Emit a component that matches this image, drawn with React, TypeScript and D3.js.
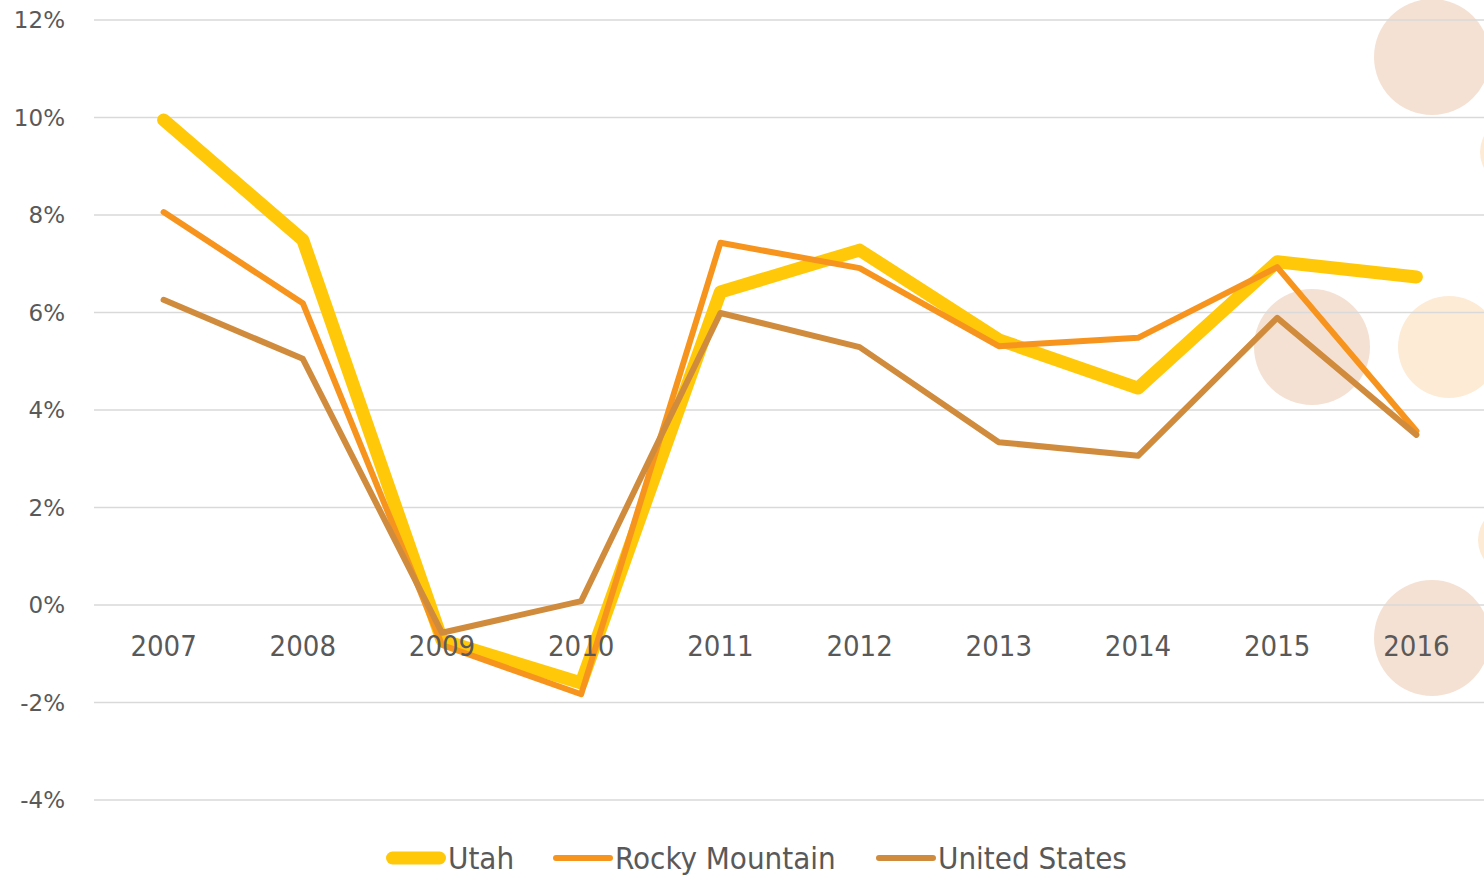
import React from 'react';
import * as d3 from 'd3';

const years = ['2007', '2008', '2009', '2010', '2011', '2012', '2013', '2014', '2015', '2016'];
const utah = [9.95, 7.49, -0.72, -1.6, 6.42, 7.28, 5.44, 4.45, 7.04, 6.73];
const rockyMountain = [8.06, 6.19, -0.82, -1.83, 7.43, 6.91, 5.31, 5.48, 6.93, 3.57];
const unitedStates = [6.26, 5.05, -0.57, 0.08, 5.99, 5.29, 3.34, 3.06, 5.89, 3.49];
const yTicks = [12, 10, 8, 6, 4, 2, 0, -2, -4];

const seriesNames = ['Utah', 'Rocky Mountain', 'United States'];
const seriesColors = ['#FFC90A', '#F7941D', '#D08C3C'];
const seriesWidths = [13, 6, 6];

// decorative bubbles in the background (cx, cy in pixel space, r, fill)
const bubbles = [
  { cx: 1432, cy: 57, r: 58, fill: '#F5E1D3' },
  { cx: 1514, cy: 152, r: 34, fill: '#FDEBD5' },
  { cx: 1312, cy: 347, r: 58, fill: '#F5E1D3' },
  { cx: 1449, cy: 347, r: 51, fill: '#FDEBD5' },
  { cx: 1512, cy: 540, r: 34, fill: '#FDEBD5' },
  { cx: 1432, cy: 638, r: 58, fill: '#F5E1D3' },
];

const W = 1484;
const H = 876;
const margin = { left: 94, right: -2, top: 20, bottom: 76 };

export default function App() {
  const x = d3.scaleBand<string>().domain(years).range([margin.left, W - margin.right]);
  const y = d3.scaleLinear().domain([-4, 12]).range([H - margin.bottom, margin.top]);
  const cx = (d: string) => (x(d) ?? 0) + x.bandwidth() / 2;

  const line = d3
    .line<number>()
    .x((_, i) => cx(years[i]))
    .y((d) => y(d));

  const data = [utah, rockyMountain, unitedStates];
  const legendX = [386, 553, 876];
  const condensed = "'DejaVu Sans Condensed', 'DejaVu Sans', sans-serif";

  return (
    <svg
      width={W}
      height={H}
      style={{ position: 'absolute', left: 0, top: 0, background: '#fff' }}
    >
      {bubbles.map((b, i) => (
        <circle key={i} cx={b.cx} cy={b.cy} r={b.r} fill={b.fill} />
      ))}

      {/* grid lines */}
      {yTicks.map((t) => (
        <line
          key={t}
          x1={margin.left}
          x2={W}
          y1={y(t)}
          y2={y(t)}
          stroke="#D9D9D9"
          strokeWidth={1.5}
        />
      ))}

      {/* y labels */}
      {yTicks.map((t) => (
        <text
          key={t}
          x={65}
          y={y(t)}
          dy="0.35em"
          textAnchor="end"
          fontFamily="'DejaVu Sans', sans-serif"
          fontSize={23}
          fill="#595959"
        >
          {t}%
        </text>
      ))}

      {/* series, Utah at the back */}
      {data.map((d, i) => (
        <path
          key={seriesNames[i]}
          d={line(d) ?? ''}
          fill="none"
          stroke={seriesColors[i]}
          strokeWidth={seriesWidths[i]}
          strokeLinejoin="round"
          strokeLinecap="round"
        />
      ))}

      {/* x labels sit on top of the lines */}
      {years.map((yr) => (
        <text
          key={yr}
          x={cx(yr)}
          y={656}
          textAnchor="middle"
          fontFamily={condensed}
          fontStretch="condensed"
          fontSize={29}
          fill="#595959"
        >
          {yr}
        </text>
      ))}

      {/* legend */}
      {seriesNames.map((name, i) => (
        <g key={name} transform={`translate(${legendX[i]},858)`}>
          <line
            x1={seriesWidths[i] / 2}
            x2={60 - seriesWidths[i] / 2}
            y1={0}
            y2={0}
            stroke={seriesColors[i]}
            strokeWidth={seriesWidths[i]}
            strokeLinecap="round"
          />
          <text
            x={62}
            y={0}
            dy="0.36em"
            fontFamily={condensed}
            fontStretch="condensed"
            fontSize={31}
            fill="#595959"
          >
            {name}
          </text>
        </g>
      ))}
    </svg>
  );
}
